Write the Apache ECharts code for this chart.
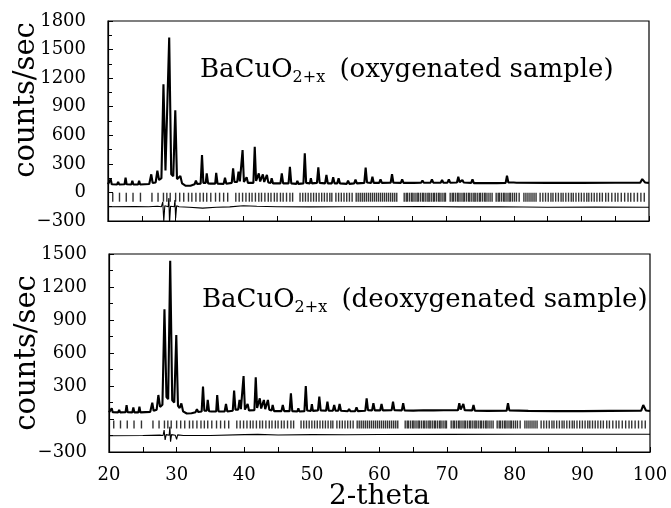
<!DOCTYPE html>
<html>
<head>
<meta charset="utf-8">
<script src="https://cdn.jsdelivr.net/npm/echarts@6.0.0/dist/echarts.min.js"></script>
<style>
  html, body { margin: 0; padding: 0; background: #fff; }
  #main { width: 671px; height: 508px; }
</style>
</head>
<body>
<div id="main"></div>
<script>
// x-ray pattern (2-theta, counts/sec)
var obsTop = [[20,85],[20.25,86],[20.4,140],[20.55,86],[21.35,84],[21.5,112],[21.65,84],[22.45,86],[22.6,155],[22.75,86],
  [23.45,84],[23.6,123],[23.75,84],[24.45,84],[24.6,123],[24.75,84],[26.1,88],[26.4,190],[26.6,100],[27.05,105],
  [27.3,228],[27.55,130],[27.9,150],[28.2,1136],[28.5,230],[28.75,210],[29.05,1626],[29.35,190],[29.65,170],[29.95,863],
  [30.2,140],[30.45,120],[30.7,172],[30.95,95],[31.5,70],[32.2,70],[32.8,85],[33.0,123],[33.2,88],[33.7,92],
  [33.9,393],[34.1,100],[34.45,100],[34.6,200],[34.8,95],[35.15,92],[35.3,112],[35.45,92],[35.85,92],[36.0,205],
  [36.2,92],[37.1,90],[37.3,155],[37.5,92],[38.3,100],[38.5,253],[38.7,110],[39.1,110],[39.3,218],[39.5,115],
  [39.75,110],[39.9,445],[40.1,110],[40.35,100],[40.5,160],[40.7,100],[41.5,100],[41.7,480],[41.9,120],[42.15,120],
  [42.3,200],[42.5,115],[42.75,115],[42.9,190],[43.1,110],[43.35,110],[43.5,185],[43.7,105],[44.05,100],[44.2,150],
  [44.4,95],[45.5,95],[45.7,200],[45.9,95],[46.7,95],[46.9,270],[47.1,95],[47.85,90],[48.0,123],[48.15,90],
  [48.9,95],[49.1,410],[49.3,100],[49.85,95],[50.0,150],[50.15,95],[50.9,100],[51.1,263],[51.3,100],[52.1,95],
  [52.3,185],[52.5,95],[53.1,95],[53.3,160],[53.5,95],[53.9,95],[54.1,150],[54.3,95],[55.3,90],[55.5,123],
  [55.7,90],[56.4,95],[56.6,135],[56.8,95],[57.9,100],[58.1,260],[58.3,105],[58.9,100],[59.1,165],[59.3,100],
  [60.1,100],[60.3,137],[60.5,100],[61.8,102],[62.0,193],[62.2,102],[63.3,100],[63.5,137],[63.7,100],[64.8,100],
  [65.0,115],[65.2,100],[66.3,102],[66.5,125],[66.7,102],[67.7,102],[67.9,137],[68.1,102],[69.2,102],[69.4,130],
  [69.6,102],[70.2,102],[70.4,137],[70.6,102],[71.6,104],[71.8,165],[72.0,108],[72.2,108],[72.4,130],[72.6,104],
  [73.7,100],[73.9,137],[74.1,98],[75.6,98],[75.8,106],[76.0,98],[77.1,98],[77.3,106],[77.5,98],[78.8,100],
  [79.0,176],[79.2,105],[80.0,104],[80.2,115],[80.4,102],[85,100],[90,100],[95,102],[98.7,102],[99.0,140],
  [99.4,105],[100,100]]

var diffTop = [[20,-150],[24,-148],[26,-150],[27.3,-145],[27.9,-150],[28.1,-100],[28.25,-300],[28.4,-140],[28.9,-150],
  [29.0,-60],[29.1,-320],[29.25,-145],[29.8,-150],[29.9,-80],[30.0,-270],[30.15,-140],[30.5,-150],[32,-155],
  [34,-165],[36,-155],[38,-152],[40,-140],[42,-145],[45,-150],[50,-152],[55,-150],[60,-150],[66,-148],
  [72,-152],[78,-150],[85,-155],[92,-153],[100,-155]]

var obsBot = [[20,60],[20.25,62],[20.4,97],[20.55,62],[21.35,60],[21.5,83],[21.65,60],[22.45,62],[22.6,127],[22.75,62],
  [23.45,60],[23.6,106],[23.75,60],[24.35,60],[24.5,112],[24.65,60],[26.1,65],[26.4,148],[26.6,75],[27.05,85],
  [27.3,218],[27.55,110],[27.9,130],[28.2,997],[28.5,200],[28.75,180],[29.05,1439],[29.35,170],[29.65,150],[29.95,764],
  [30.2,120],[30.45,100],[30.7,142],[30.95,70],[31.5,50],[32.2,52],[32.8,62],[33.0,90],[33.2,64],[33.7,68],
  [33.9,294],[34.1,75],[34.45,75],[34.6,173],[34.8,70],[35.15,68],[35.3,85],[35.45,68],[35.85,68],[36.0,218],
  [36.2,68],[37.1,68],[37.3,136],[37.5,68],[38.3,75],[38.5,258],[38.7,85],[39.1,85],[39.3,173],[39.5,90],
  [39.75,85],[39.9,391],[40.1,85],[40.35,78],[40.5,136],[40.7,78],[41.5,80],[41.7,379],[41.9,100],[42.15,100],
  [42.3,188],[42.5,95],[42.75,95],[42.9,173],[43.1,90],[43.35,90],[43.5,173],[43.7,85],[44.05,78],[44.2,127],
  [44.4,72],[45.5,72],[45.7,127],[45.9,72],[46.7,72],[46.9,233],[47.1,72],[47.85,68],[48.0,97],[48.15,68],
  [48.9,72],[49.1,300],[49.3,78],[49.85,74],[50.0,136],[50.15,74],[50.9,78],[51.1,203],[51.3,78],[52.1,75],
  [52.3,158],[52.5,75],[53.1,75],[53.3,127],[53.5,75],[53.9,75],[54.1,136],[54.3,75],[55.3,70],[55.5,90],
  [55.7,70],[56.4,72],[56.6,106],[56.8,72],[57.9,75],[58.1,188],[58.3,80],[58.9,78],[59.1,143],[59.3,78],
  [60.1,78],[60.3,136],[60.5,78],[61.8,80],[62.0,158],[62.2,80],[63.3,78],[63.5,143],[63.7,78],[65,76],
  [66.5,80],[68,78],[69.5,80],[71.6,80],[71.8,143],[72.0,85],[72.2,85],[72.4,136],[72.6,80],[73.7,78],
  [73.9,127],[74.1,76],[76,74],[78.8,75],[79.0,143],[79.2,78],[82,74],[86,72],[90,72],[94,74],
  [98.7,76],[99.0,127],[99.4,78],[100,72]]

var diffBot = [[20,-152],[25,-150],[27.5,-147],[28.0,-150],[28.15,-100],[28.3,-191],[28.45,-142],[28.9,-147],[29.0,-70],
  [29.1,-206],[29.25,-142],[29.8,-147],[29.9,-136],[30.0,-185],[30.15,-144],[31,-150],[35,-150],[40,-142],
  [42,-140],[45,-145],[50,-142],[55,-143],[60,-141],[70,-140],[80,-139],[90,-138],[100,-138]]

// reflection markers (same phase in both runs)
var reflPos = [20.7,21.7,22.7,23.7,24.8,26.5,27.4,28.2,28.7,29.2,30.0,30.6,31.2,31.9,32.4,33.0,33.6,34.1,34.6,35.2,
  35.9,36.5,37.1,37.7,38.9,39.4,39.9,40.4,40.9,41.3,41.8,42.3,42.7,43.2,43.7,44.1,44.6,45.0,45.5,45.9,
  46.4,46.9,47.3,48.4,48.8,49.2,49.6,50.0,50.4,50.8,51.2,51.6,52.0,52.4,52.8,53.1,53.7,54.1,54.5,54.9,
  55.3,55.7,56.1,56.7,57.0,57.3,57.6,57.9,58.2,58.5,58.8,59.1,59.4,59.7,60.0,60.3,60.6,60.9,61.2,61.5,
  61.8,62.1,62.4,62.7,63.8,64.1,64.3,64.6,64.9,65.1,65.4,65.7,65.9,66.2,66.5,66.7,67.0,67.3,67.5,67.8,
  68.1,68.3,68.6,68.9,69.1,69.4,69.7,69.9,70.6,70.9,71.1,71.4,71.7,71.9,72.2,72.5,72.7,73.0,73.3,73.5,
  73.8,74.1,74.3,74.6,74.9,75.1,75.4,75.7,75.9,76.2,76.5,76.8,77.4,77.7,77.9,78.2,78.5,78.7,79.0,79.3,
  79.5,79.8,80.1,80.4,80.8,81.5,81.8,82.1,82.4,82.7,83.0,83.3,83.9,84.3,84.7,85.1,85.5,85.8,86.2,86.6,
  87.0,87.3,87.7,88.1,88.5,88.8,89.2,89.6,90.0,90.4,90.8,91.1,91.5,91.9,92.3,92.7,93.1,93.6,94.0,94.5,
  95.0,95.4,95.9,96.4,96.9,97.3,97.8,98.3,98.8,99.3]
var reflLevel = -50

var xTicks = { min: 20, max: 100, interval: 10 }
var yTop = { min: -300, max: 1800, interval: 300 }
var yBot = { min: -300, max: 1500, interval: 300 }

var FONT = 'DejaVu Serif'

function xAxisFor(gridIndex, showLabels) {
  return {
    type: 'value', gridIndex: gridIndex,
    min: xTicks.min, max: xTicks.max, interval: xTicks.interval,
    name: showLabels ? '2-theta' : '',
    nameLocation: 'middle', nameGap: 31, nameMoveOverlap: false,
    nameTextStyle: { fontFamily: FONT, fontSize: 28, color: '#000' },
    axisLine: { show: true, onZero: false, lineStyle: { color: '#000', width: 1.2 } },
    axisTick: { show: true, inside: true, length: 5, lineStyle: { color: '#000' } },
    minorTick: { show: true, splitNumber: 2, length: 5, lineStyle: { color: '#000' } },
    axisLabel: { show: showLabels, fontFamily: FONT, fontSize: 18, color: '#000', margin: 14 },
    splitLine: { show: false }
  }
}

function yAxisFor(gridIndex, range, namePad) {
  return {
    type: 'value', gridIndex: gridIndex,
    min: range.min, max: range.max, interval: range.interval,
    name: 'counts/sec', nameLocation: 'middle', nameGap: 67, nameMoveOverlap: false,
    nameTextStyle: { fontFamily: FONT, fontSize: 29, color: '#000', padding: namePad },
    axisLine: { show: true, onZero: false, lineStyle: { color: '#000', width: 1.2 } },
    axisTick: { show: true, inside: true, length: 5, lineStyle: { color: '#000' } },
    minorTick: { show: true, splitNumber: 2, length: 4, lineStyle: { color: '#000' } },
    axisLabel: {
      fontFamily: FONT, fontSize: 18, color: '#000', margin: 22,
      formatter: function (v) { return String(v).replace('-', '\u2212') }
    },
    splitLine: { show: false }
  }
}

function reflSeries(idx, h) {
  return {
    type: 'scatter', xAxisIndex: idx, yAxisIndex: idx, silent: true,
    symbol: 'rect', symbolSize: [1.4, h],
    itemStyle: { color: '#000' },
    data: reflPos.map(function (p) { return [p, reflLevel] })
  }
}

function lineSeries(idx, data, w) {
  return {
    type: 'line', xAxisIndex: idx, yAxisIndex: idx, data: data,
    showSymbol: false, silent: true, clip: true,
    lineStyle: { color: '#000', width: w }
  }
}

var rich = {
  m: { fontFamily: FONT, fontSize: 26, lineHeight: 32, fill: '#000' },
  s: { fontFamily: FONT, fontSize: 16, lineHeight: 16, verticalAlign: 'bottom', fill: '#000' },
  p: { fontFamily: FONT, fontSize: 26, lineHeight: 32, fill: '#000', padding: [0, 0, 0, 6] }
}

var chart = echarts.init(document.getElementById('main'))
chart.setOption({
  animation: false,
  backgroundColor: '#fff',
  grid: [
    { left: 108, right: 22, top: 21, height: 200, show: true, borderColor: '#000', borderWidth: 1.2,
      containLabel: false, outerBoundsMode: 'none' },
    { left: 109, right: 21, top: 254, height: 198, show: true, borderColor: '#000', borderWidth: 1.2,
      containLabel: false, outerBoundsMode: 'none' }
  ],
  xAxis: [xAxisFor(0, false), xAxisFor(1, true)],
  yAxis: [yAxisFor(0, yTop, [0, 0, 0, 42]), yAxisFor(1, yBot, 0)],
  graphic: [
    { type: 'text', left: 200, top: 57, style: { text: '{m|BaCuO}{s|2+x}{p| (oxygenated sample)}', rich: rich } },
    { type: 'text', left: 202, top: 287, style: { text: '{m|BaCuO}{s|2+x}{p| (deoxygenated sample)}', rich: rich } }
  ],
  series: [
    lineSeries(0, obsTop, 2.1),
    reflSeries(0, 9),
    lineSeries(0, diffTop, 1.1),
    lineSeries(1, obsBot, 2.1),
    reflSeries(1, 8),
    lineSeries(1, diffBot, 1.1)
  ]
})
</script>
</body>
</html>
